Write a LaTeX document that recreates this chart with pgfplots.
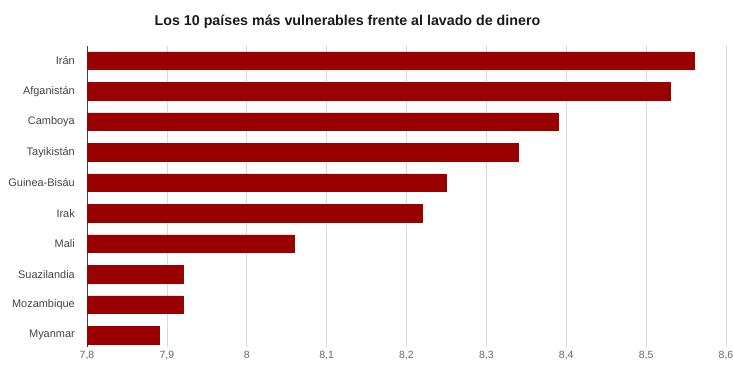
\documentclass[border=0pt]{standalone}
\usepackage{pgfplots}
\pgfplotsset{compat=1.18}
\usepackage{fontspec}
\setmainfont{Liberation Sans}
\definecolor{barred}{HTML}{990000}
\definecolor{labgray}{HTML}{444444}
\definecolor{tickgray}{HTML}{666666}
\definecolor{gridgray}{HTML}{D9D9D9}
\begin{document}
\begin{tikzpicture}
\begin{axis}[
  at={(87bp,22bp)}, anchor=south west,
  scale only axis,
  width=639bp, height=301bp,
  xbar, bar width=0.58, bar shift=0pt,
  xmin=7.8, xmax=8.6,
  ymin=-0.39, ymax=9.48,
  xtick={7.8,7.9,8,8.1,8.2,8.3,8.4,8.5,8.6},
  ytick={0,...,9},
  yticklabels={Myanmar,Mozambique,Suazilandia,Mali,Irak,Guinea-Bisáu,Tayikistán,Camboya,Afganistán,Irán},
  axis x line*=bottom,
  axis y line*=left,
  x axis line style={draw=none},
  y axis line style={draw=black!75, line width=0.6pt},
  major tick length=0pt,
  xmajorgrids,
  grid style={gridgray, line width=0.6pt},
  /pgf/number format/assume math mode=true,
  xticklabel style={font=\fontsize{10.5}{12}\selectfont, text=tickgray, inner sep=0pt, yshift=-4bp,
    /pgf/number format/.cd, use comma, fixed, precision=1},
  yticklabel style={font=\fontsize{11}{13}\selectfont, text=labgray, inner sep=0pt, xshift=-12bp},
  clip=true,
]
\addplot[fill=barred, draw=barred] coordinates {
  (7.89,0) (7.92,1) (7.92,2) (8.06,3) (8.22,4) (8.25,5) (8.34,6) (8.39,7) (8.53,8) (8.56,9)
};
\end{axis}
\node[anchor=base, font=\fontsize{14.3}{16}\selectfont\bfseries, text=black!90] at (347.5bp,343bp) {Los 10 países más vulnerables frente al lavado de dinero};
\pgfresetboundingbox
\path (0,0) rectangle (733bp,369bp);
\end{tikzpicture}
\end{document}
